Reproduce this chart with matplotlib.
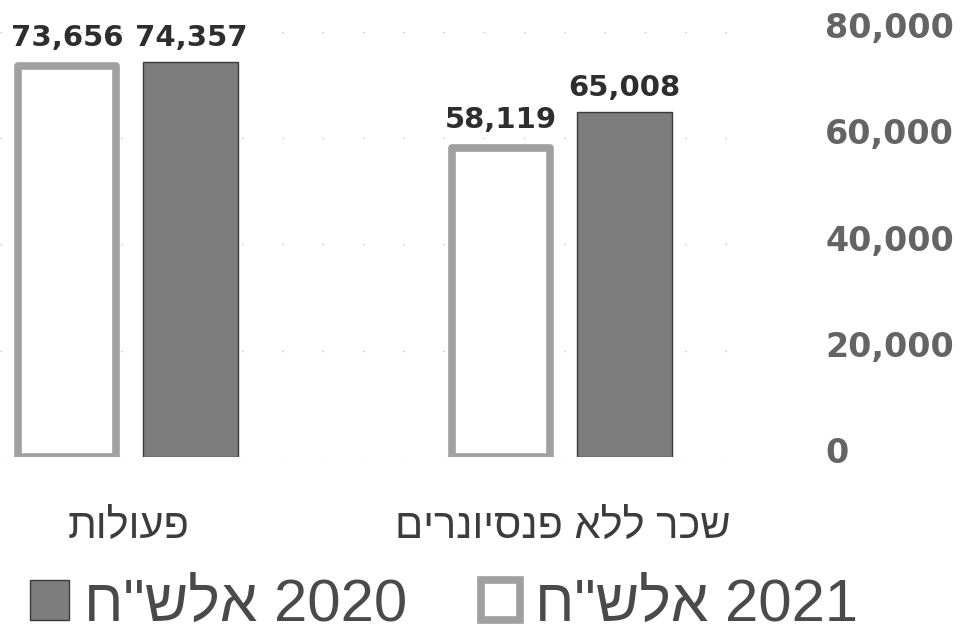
import numpy as np
import matplotlib
matplotlib.use("Agg")
import matplotlib.pyplot as plt
from matplotlib.transforms import ScaledTranslation

# =====================================================
# Data
# =====================================================
categories = ["שכר ללא פנסיונרים", "פעולות"]   # right to left
values_2020 = [65008, 74357]
values_2021 = [58119, 73656]
unit_label = 'אלש"ח'
years = ["2020", "2021"]
y_ticks = [0, 20000, 40000, 60000, 80000]


def rtl(s):
    # matplotlib has no bidi support, so flip Hebrew text to visual order
    return s[::-1]


heb_font = ["Liberation Sans", "DejaVu Sans"]
num_font = ["DejaVu Sans"]

fig = plt.figure(figsize=(9.66, 6.32), dpi=100)
ax = fig.add_axes([0.0, 175 / 632, 760 / 966, 425 / 632])

x = np.arange(len(categories))
dark = ax.bar(x - 0.143, values_2020, width=0.219, color="#7d7d7d",
              edgecolor="#3a3a3a", linewidth=1.0, zorder=3)
light = ax.bar(x + 0.143, values_2021, width=0.226, color="white",
               edgecolor="#a0a0a0", linewidth=5.5, joinstyle="round", zorder=3)

ax.set_ylim(0, 80000)
ax.set_xlim(1.297, -0.455)

# value labels
for cont, vals, pad in [(dark, values_2020, 7), (light, values_2021, 10)]:
    ax.bar_label(cont, labels=[f"{v:,}" for v in vals], padding=pad,
                 fontsize=21, fontweight="bold", color="#2e2e2e",
                 family=num_font)

# axes styling
for s in ax.spines.values():
    s.set_visible(False)
ax.yaxis.tick_right()
ax.set_yticks(y_ticks)
ax.set_yticklabels([f"{v:,}" for v in y_ticks], family=num_font,
                   fontsize=24, fontweight="bold", color="#646464")
ax.tick_params(axis="y", length=0, pad=47)
shift = ScaledTranslation(0, 7 / 100, fig.dpi_scale_trans)
for lab in ax.get_yticklabels():
    lab.set_transform(lab.get_transform() + shift)
ax.yaxis.grid(True, color="#c4c4c4", linestyle=(0, (1, 28)), linewidth=1.0)
ax.set_axisbelow(True)

ax.set_xticks(x)
ax.set_xticklabels([rtl(c) for c in categories], family=heb_font,
                   fontsize=30, color="#3c3c3c")
ax.tick_params(axis="x", length=0, pad=36)

# legend
handles = [dark, light]
labels = [rtl(unit_label) + " " + y for y in years]
fig.legend(handles, labels, loc="lower left", bbox_to_anchor=(-6 / 966, -0.058),
           ncol=2, frameon=False, prop={"family": heb_font, "size": 43},
           handlelength=0.65, handleheight=0.65, handletextpad=0.25,
           columnspacing=1.25, borderpad=0.1, labelcolor="#4a4a4a")

fig.savefig("out.png", dpi=100)
